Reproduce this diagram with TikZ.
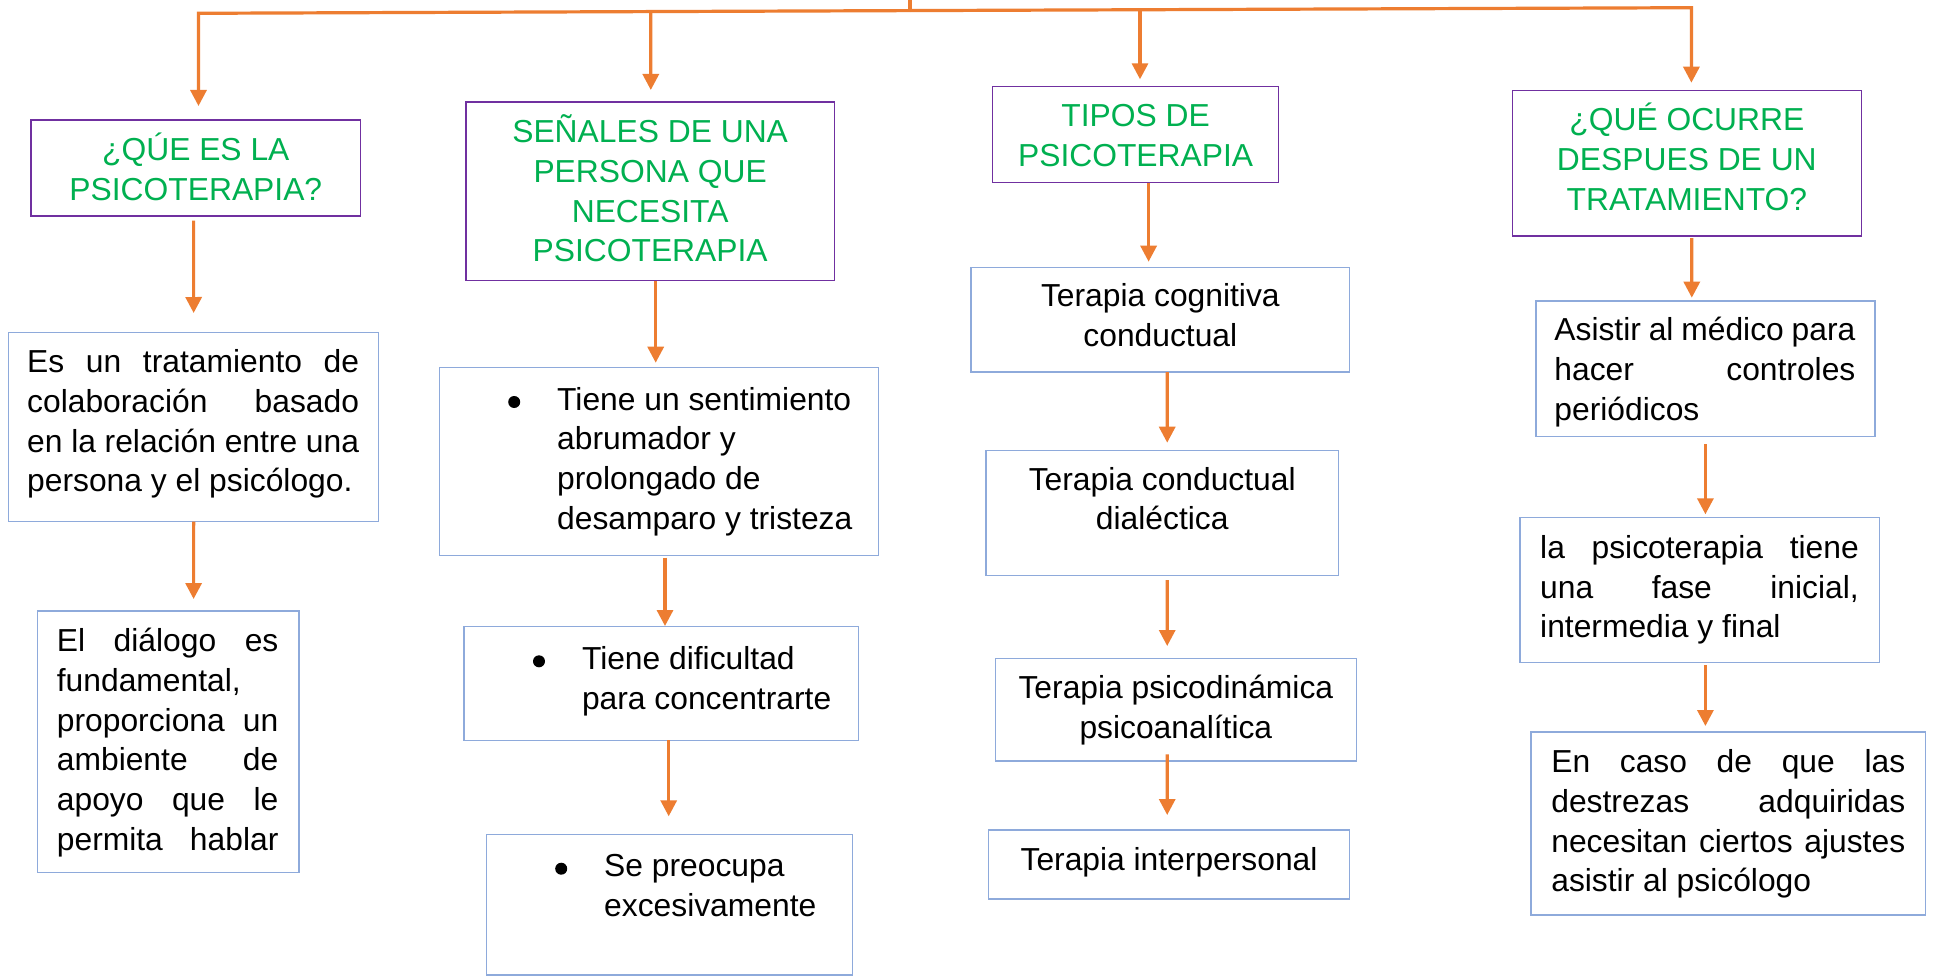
\documentclass[tikz,border=0pt]{standalone}
\usepackage{fontspec}
\setmainfont{Liberation Sans}
\usetikzlibrary{arrows.meta}
\hbadness=10000 \vbadness=10000 \hfuzz=8pt
\definecolor{orng}{HTML}{ED7D31}
\definecolor{purp}{HTML}{7030A0}
\definecolor{grn}{HTML}{00B050}
\definecolor{lblue}{HTML}{8EAADB}
% #1 width, #2 height, #3 first baseline from top, #4 paragraph setup, #5 text
\newcommand\boxtxt[5]{\parbox[c][#2pt][t]{#1pt}{\fontsize{31.8}{39.7}\selectfont#4\relax\rule{0pt}{#3pt}#5\par}}
\newcommand\bul{\llap{\raisebox{2pt}{\tikz\fill (0,0) circle (6pt);}\hspace{37pt}}}
\newcommand\jst[2]{\leftskip=#1pt\rightskip=#2pt\relax}
\newcommand\lst{\leftskip=118pt\rightskip=0pt plus 1fil\relax}
\begin{document}
\begin{tikzpicture}[x=1pt,y=-1pt,
  headbox/.style={draw=purp,line width=1.4pt,inner sep=0pt,outer sep=0pt,text=grn},
  txtbox/.style={draw=lblue,line width=1.4pt,inner sep=0pt,outer sep=0pt,text=black},
  line/.style={draw=orng,line width=3.2pt},
  arr/.style={line,-{Triangle[length=16pt,width=16pt]}}]
\useasboundingbox (0,0) rectangle (1938,979);
\fill[white] (0,0) rectangle (1938,979);

% heading boxes
\node[headbox] (b1) at (195.8,168) {\boxtxt{329.6}{96}{41}{\centering}{¿QÚE ES LA\\PSICOTERAPIA?}};
\node[headbox] (b2) at (650.15,191.35) {\boxtxt{368.7}{178.7}{40.7}{\centering}{SEÑALES DE UNA\\PERSONA QUE\\NECESITA\\PSICOTERAPIA}};
\node[headbox] (b3) at (1135.6,134.7) {\boxtxt{285.8}{96}{40}{\centering}{TIPOS DE\\PSICOTERAPIA}};
\node[headbox] (b4) at (1686.85,163.35) {\boxtxt{348.9}{145.3}{40}{\centering}{¿QUÉ OCURRE\\DESPUES DE UN\\TRATAMIENTO?}};

% column 1
\node[txtbox] (a1) at (193.65,427) {\boxtxt{369.9}{189.4}{40.4}{\jst{18.5}{19.5}}{Es un tratamiento de\linebreak colaboración basado\linebreak en la relación entre una\linebreak persona y el psicólogo.}};
\node[txtbox] (a2) at (168.25,741.65) {\boxtxt{261.1}{261.3}{40.7}{\jst{19.2}{20.4}\parfillskip=0pt}{El diálogo es\linebreak fundamental,\\proporciona un\linebreak ambiente de\linebreak apoyo que le\linebreak permita hablar}};

% column 2
\node[txtbox] (s1) at (658.8,461.7) {\boxtxt{439.2}{188}{42.3}{\lst}{\bul Tiene un sentimiento\\abrumador y\\prolongado de\\desamparo y tristeza}};
\node[txtbox] (s2) at (661.3,683.5) {\boxtxt{394.6}{113.6}{42.6}{\lst}{\bul Tiene dificultad\\para concentrarte}};
\node[txtbox] (s3) at (669.3,904.65) {\boxtxt{366.2}{140.7}{42.4}{\lst}{\bul Se preocupa\\excesivamente}};

% column 3
\node[txtbox] (c1) at (1160.35,319.65) {\boxtxt{378.7}{104.7}{39.4}{\centering}{Terapia cognitiva\\conductual}};
\node[txtbox] (c2) at (1162.25,512.8) {\boxtxt{352.5}{125}{39.7}{\centering}{Terapia conductual\\dialéctica}};
\node[txtbox] (c3) at (1175.85,709.65) {\boxtxt{361.3}{102.7}{40}{\centering}{Terapia psicodinámica\\psicoanalítica}};
\node[txtbox] (c4) at (1169.05,864.5) {\boxtxt{361.3}{69}{40}{\centering}{Terapia interpersonal}};

% column 4
\node[txtbox] (d1) at (1705.4,368.85) {\boxtxt{339}{135.7}{39.7}{\jst{18.5}{19.5}}{Asistir al médico para\linebreak hacer controles\linebreak periódicos}};
\node[txtbox] (d2) at (1699.5,589.8) {\boxtxt{359.4}{145}{41}{\jst{20.4}{20.4}}{la psicoterapia tiene\linebreak una fase inicial,\linebreak intermedia y final}};
\node[txtbox] (d3) at (1728.25,823.5) {\boxtxt{394.7}{183}{40.7}{\jst{20.4}{20.4}}{En caso de que las\linebreak destrezas adquiridas\linebreak necesitan ciertos ajustes\linebreak asistir al psicólogo}};

% top branching
\coordinate (root) at (910,-12);
\coordinate (j) at (910,10.6);
\coordinate (j1) at (198.5,13.3);
\coordinate (j2) at (650.8,11.6);
\coordinate (j3) at (1140,9.8);
\coordinate (j4) at (1691.4,7.7);
\draw[line] (root) -- (j);
\draw[arr] (j) -- (j1) -- ([xshift=2.7pt,yshift=14pt]b1.north);
\draw[arr] (j) -- (j4) -- ([xshift=4.55pt,yshift=8pt]b4.north);
\draw[arr] (j2) -- ([xshift=0.65pt,yshift=12pt]b2.north);
\draw[arr] (j3) -- ([xshift=4.4pt,yshift=7.4pt]b3.north);

% column arrows
\draw[arr] ([xshift=-2.2pt,yshift=-4.7pt]b1.south) -- ([yshift=19.3pt]a1.north);
\draw[arr] (a1.south) -- ([xshift=25.35pt,yshift=12pt]a2.north);

\draw[arr] ([xshift=5.55pt]b2.south) -- ([xshift=-3.1pt,yshift=5pt]s1.north);
\draw[arr] ([xshift=6.2pt,yshift=-2pt]s1.south) -- ([xshift=3.7pt,yshift=0.7pt]s2.north);
\draw[arr] ([xshift=7.4pt]s2.south) -- ([xshift=-0.6pt,yshift=18pt]s3.north);

\draw[arr] ([xshift=13pt]b3.south) -- ([xshift=-11.75pt,yshift=5.6pt]c1.north);
\draw[arr] ([xshift=6.85pt]c1.south) -- ([xshift=4.95pt,yshift=7.6pt]c2.north);
\draw[arr] ([xshift=4.95pt,yshift=-4.7pt]c2.south) -- ([xshift=-8.65pt,yshift=12.3pt]c3.north);
\draw[arr] ([xshift=-8.65pt,yshift=6.7pt]c3.south) -- ([xshift=-1.85pt,yshift=15pt]c4.north);

\draw[arr] ([xshift=4.95pt,yshift=-2pt]b4.south) -- ([xshift=-13.6pt,yshift=3.3pt]d1.north);
\draw[arr] ([yshift=-7.3pt]d1.south) -- ([xshift=5.9pt,yshift=3pt]d2.north);
\draw[arr] ([xshift=5.9pt,yshift=-2.7pt]d2.south) -- ([xshift=-22.85pt,yshift=6pt]d3.north);
\end{tikzpicture}
\end{document}
